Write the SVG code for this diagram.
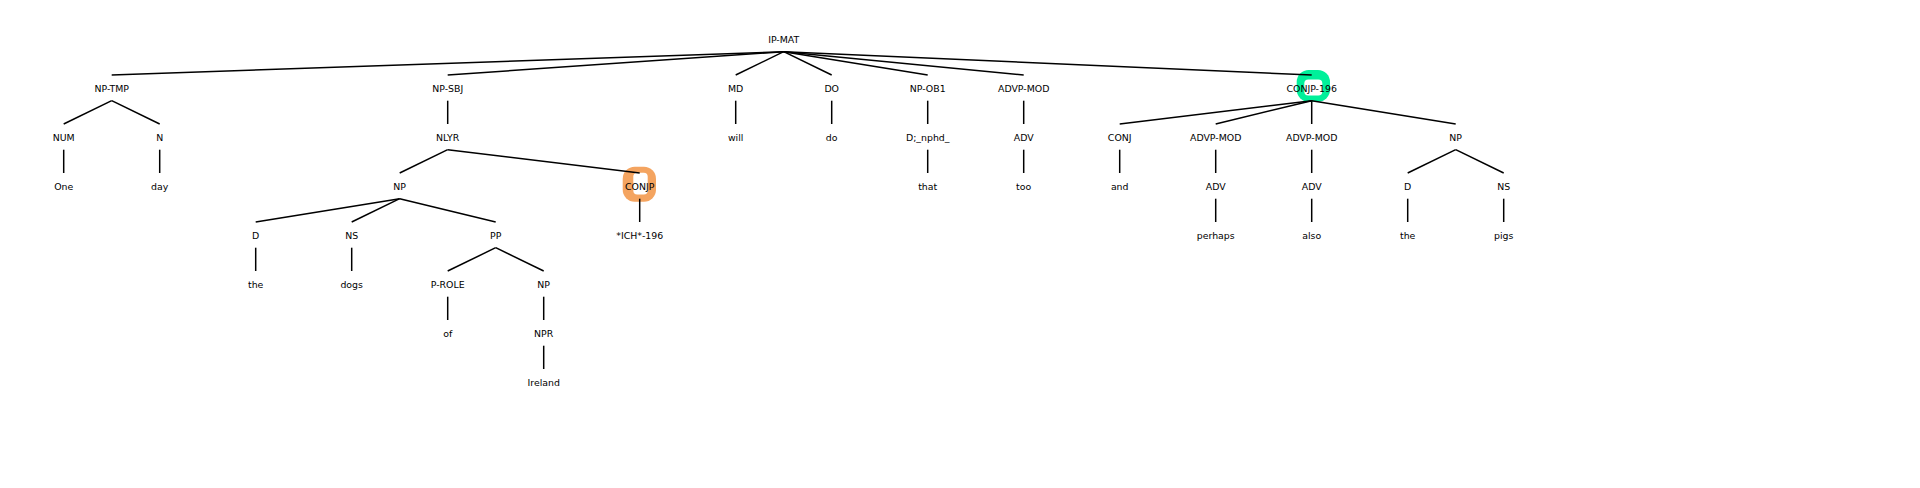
<svg xmlns="http://www.w3.org/2000/svg" width="1920" height="488" viewBox="0 0 1920 488">
<style>
text{font-family:"DejaVu Sans",sans-serif;font-size:9.4px;fill:#000;text-anchor:middle}
.e line{stroke:#000;stroke-width:1.5;stroke-linecap:butt}
.hole{fill:#fff}
</style>
<rect width="1920" height="488" fill="#fff"/>
<g id="highlights">
<rect x="622.7" y="166.7" width="33.3" height="35" rx="12" fill="#F4A460"/>
<rect class="hole" x="633.3" y="172.7" width="14.4" height="21.7" rx="4"/>
<rect x="1296.7" y="70" width="33.3" height="31.7" rx="12" fill="#00F09A"/>
<rect class="hole" x="1304.3" y="79.5" width="18" height="16" rx="4"/>
</g>
<g id="connectors" class="e">
<line x1="783.7" y1="51.7" x2="111.7" y2="75"/>
<line x1="783.7" y1="51.7" x2="447.7" y2="75"/>
<line x1="783.7" y1="51.7" x2="735.7" y2="75"/>
<line x1="783.7" y1="51.7" x2="831.7" y2="75"/>
<line x1="783.7" y1="51.7" x2="927.7" y2="75"/>
<line x1="783.7" y1="51.7" x2="1023.7" y2="75"/>
<line x1="783.7" y1="51.7" x2="1311.7" y2="75"/>
<line x1="111.7" y1="100.7" x2="63.7" y2="124"/>
<line x1="111.7" y1="100.7" x2="159.7" y2="124"/>
<line x1="63.7" y1="149.7" x2="63.7" y2="173"/>
<line x1="159.7" y1="149.7" x2="159.7" y2="173"/>
<line x1="447.7" y1="100.7" x2="447.7" y2="124"/>
<line x1="447.7" y1="149.7" x2="399.7" y2="173"/>
<line x1="447.7" y1="149.7" x2="639.7" y2="173"/>
<line x1="399.7" y1="198.7" x2="255.7" y2="222"/>
<line x1="399.7" y1="198.7" x2="351.7" y2="222"/>
<line x1="399.7" y1="198.7" x2="495.7" y2="222"/>
<line x1="255.7" y1="247.7" x2="255.7" y2="271"/>
<line x1="351.7" y1="247.7" x2="351.7" y2="271"/>
<line x1="495.7" y1="247.7" x2="447.7" y2="271"/>
<line x1="495.7" y1="247.7" x2="543.7" y2="271"/>
<line x1="447.7" y1="296.7" x2="447.7" y2="320"/>
<line x1="543.7" y1="296.7" x2="543.7" y2="320"/>
<line x1="543.7" y1="345.7" x2="543.7" y2="369"/>
<line x1="639.7" y1="198.7" x2="639.7" y2="222"/>
<line x1="735.7" y1="100.7" x2="735.7" y2="124"/>
<line x1="831.7" y1="100.7" x2="831.7" y2="124"/>
<line x1="927.7" y1="100.7" x2="927.7" y2="124"/>
<line x1="927.7" y1="149.7" x2="927.7" y2="173"/>
<line x1="1023.7" y1="100.7" x2="1023.7" y2="124"/>
<line x1="1023.7" y1="149.7" x2="1023.7" y2="173"/>
<line x1="1311.7" y1="100.7" x2="1119.7" y2="124"/>
<line x1="1311.7" y1="100.7" x2="1215.7" y2="124"/>
<line x1="1311.7" y1="100.7" x2="1311.7" y2="124"/>
<line x1="1311.7" y1="100.7" x2="1455.7" y2="124"/>
<line x1="1119.7" y1="149.7" x2="1119.7" y2="173"/>
<line x1="1215.7" y1="149.7" x2="1215.7" y2="173"/>
<line x1="1215.7" y1="198.7" x2="1215.7" y2="222"/>
<line x1="1311.7" y1="149.7" x2="1311.7" y2="173"/>
<line x1="1311.7" y1="198.7" x2="1311.7" y2="222"/>
<line x1="1455.7" y1="149.7" x2="1407.7" y2="173"/>
<line x1="1455.7" y1="149.7" x2="1503.7" y2="173"/>
<line x1="1407.7" y1="198.7" x2="1407.7" y2="222"/>
<line x1="1503.7" y1="198.7" x2="1503.7" y2="222"/>
</g>
<g id="n-ipmat"><text x="783.7" y="42.8">IP-MAT</text></g>
<g id="n-nptmp"><text x="111.7" y="91.8">NP-TMP</text></g>
<g id="n-num"><text x="63.7" y="140.8">NUM</text></g>
<g id="n-one"><text x="63.7" y="189.8">One</text></g>
<g id="n-n"><text x="159.7" y="140.8">N</text></g>
<g id="n-day"><text x="159.7" y="189.8">day</text></g>
<g id="n-npsbj"><text x="447.7" y="91.8">NP-SBJ</text></g>
<g id="n-nlyr"><text x="447.7" y="140.8">NLYR</text></g>
<g id="n-np1"><text x="399.7" y="189.8">NP</text></g>
<g id="n-d1"><text x="255.7" y="238.8">D</text></g>
<g id="n-the1"><text x="255.7" y="287.8">the</text></g>
<g id="n-ns1"><text x="351.7" y="238.8">NS</text></g>
<g id="n-dogs"><text x="351.7" y="287.8">dogs</text></g>
<g id="n-pp"><text x="495.7" y="238.8">PP</text></g>
<g id="n-prole"><text x="447.7" y="287.8">P-ROLE</text></g>
<g id="n-of"><text x="447.7" y="336.8">of</text></g>
<g id="n-np2"><text x="543.7" y="287.8">NP</text></g>
<g id="n-npr"><text x="543.7" y="336.8">NPR</text></g>
<g id="n-ireland"><text x="543.7" y="385.8">Ireland</text></g>
<g id="n-conjp"><text x="639.7" y="189.8">CONJP</text></g>
<g id="n-ich"><text x="639.7" y="238.8">*ICH*-196</text></g>
<g id="n-md"><text x="735.7" y="91.8">MD</text></g>
<g id="n-will"><text x="735.7" y="140.8">will</text></g>
<g id="n-do1"><text x="831.7" y="91.8">DO</text></g>
<g id="n-do2"><text x="831.7" y="140.8">do</text></g>
<g id="n-npob1"><text x="927.7" y="91.8">NP-OB1</text></g>
<g id="n-dnphd"><text x="927.7" y="140.8">D;_nphd_</text></g>
<g id="n-that"><text x="927.7" y="189.8">that</text></g>
<g id="n-advpmod1"><text x="1023.7" y="91.8">ADVP-MOD</text></g>
<g id="n-adv1"><text x="1023.7" y="140.8">ADV</text></g>
<g id="n-too"><text x="1023.7" y="189.8">too</text></g>
<g id="n-conjp196"><text x="1311.7" y="91.8">CONJP-196</text></g>
<g id="n-conj"><text x="1119.7" y="140.8">CONJ</text></g>
<g id="n-and"><text x="1119.7" y="189.8">and</text></g>
<g id="n-advpmod2"><text x="1215.7" y="140.8">ADVP-MOD</text></g>
<g id="n-adv2"><text x="1215.7" y="189.8">ADV</text></g>
<g id="n-perhaps"><text x="1215.7" y="238.8">perhaps</text></g>
<g id="n-advpmod3"><text x="1311.7" y="140.8">ADVP-MOD</text></g>
<g id="n-adv3"><text x="1311.7" y="189.8">ADV</text></g>
<g id="n-also"><text x="1311.7" y="238.8">also</text></g>
<g id="n-np3"><text x="1455.7" y="140.8">NP</text></g>
<g id="n-d2"><text x="1407.7" y="189.8">D</text></g>
<g id="n-the2"><text x="1407.7" y="238.8">the</text></g>
<g id="n-ns2"><text x="1503.7" y="189.8">NS</text></g>
<g id="n-pigs"><text x="1503.7" y="238.8">pigs</text></g>
</svg>
